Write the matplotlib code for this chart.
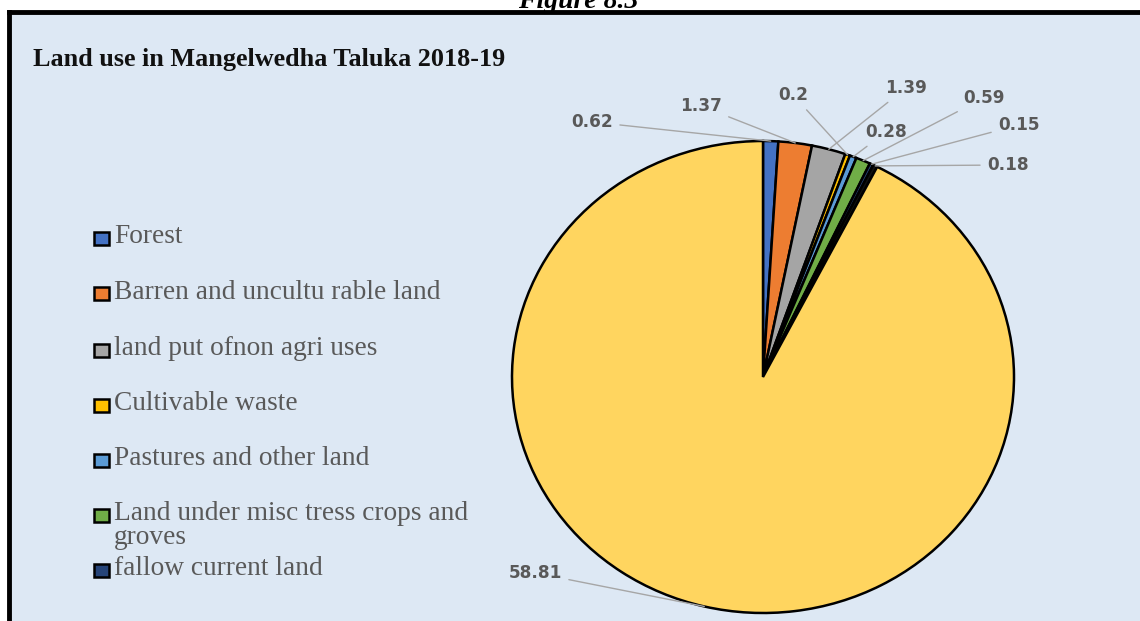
import numpy as np
import matplotlib.pyplot as plt
from matplotlib.patches import Rectangle
from matplotlib.lines import Line2D

# --- DATA ---
categories = [
    "Forest",
    "Barren and uncultu rable land",
    "land put ofnon agri uses",
    "Cultivable waste",
    "Pastures and other land",
    "Land under misc tress crops and\ngroves",
    "fallow current land",
    "Other fallow land",
    "Net sown area",
]
values = [0.62, 1.37, 1.39, 0.2, 0.28, 0.59, 0.15, 0.18, 58.81]
colors = ["#4472C4", "#ED7D31", "#A5A5A5", "#FFC000", "#5B9BD5",
          "#70AD47", "#264478", "#111111", "#FFD55F"]
legend_count = 7  # only the first seven entries are visible in the legend

# label text anchor points in pixels (x from left, y from top) and alignment
label_px = [(613, 122, "right"), (722, 106, "right"), (885, 88, "left"),
            (808, 95, "right"), (865, 132, "left"), (963, 98, "left"),
            (998, 125, "left"), (987, 165, "left"), (562, 573, "right")]

W, H = 1140, 621
CX, CY = 763, 377      # pie centre in pixels
RX, RY = 251, 236      # the pie is slightly stretched horizontally

fig = plt.figure(figsize=(W / 100, H / 100), dpi=100, facecolor="white")

# chart background and the black frame on the top/left
fig.patches.append(Rectangle((9 / W, 0), 1, 1 - 12 / H, transform=fig.transFigure,
                             facecolor="#DDE8F4", edgecolor="none", zorder=-5))
fig.lines.append(Line2D([9 / W, 1], [1 - 11.5 / H, 1 - 11.5 / H], transform=fig.transFigure,
                        color="black", lw=3.5))
fig.lines.append(Line2D([9 / W, 9 / W], [0, 1 - 11.5 / H], transform=fig.transFigure,
                        color="black", lw=3.5))

# caption of the page, cut off at the top
fig.text(578 / W, 1 - 8 / H, "Figure 8.3", ha="center", va="baseline",
         fontsize=20, fontweight="bold", fontstyle="italic", family="Liberation Serif")

ax = fig.add_axes([0, 0, 1, 1], zorder=2)
ax.patch.set_alpha(0)

def px(x, y):
    return (x - CX) / RX, (CY - y) / RY

wedges, _ = ax.pie(values, colors=colors, startangle=90, counterclock=False,
                   radius=1, wedgeprops=dict(edgecolor="black", linewidth=1.8))

ax.set_aspect("auto")
ax.set_xlim(-CX / RX, (W - CX) / RX)
ax.set_ylim(-(H - CY) / RY, CY / RY)
ax.axis("off")

# data labels with leader lines
for w, v, (lx, ly, ha) in zip(wedges, values, label_px):
    ang = np.deg2rad((w.theta1 + w.theta2) / 2)
    ax.annotate(f"{v:g}", xy=(np.cos(ang), np.sin(ang)), xytext=px(lx, ly),
                ha=ha, va="center", fontsize=12.2, fontweight="bold", color="#595959",
                family="DejaVu Sans",
                arrowprops=dict(arrowstyle="-", color="#A6A6A6", lw=1,
                                shrinkA=3, shrinkB=0))

# title
fig.text(33 / W, 1 - 66 / H, "Land use in Mangelwedha Taluka 2018-19",
         ha="left", va="baseline", fontsize=18.8, fontweight="bold",
         family="Liberation Serif", color="#111111")

# legend (drawn by hand to keep the overlapping wrapped entry)
leg_y = [238, 294, 350, 405, 460, 515, 570]
for i in range(legend_count):
    y = leg_y[i]
    fig.patches.append(Rectangle((94 / W, 1 - (y + 6.5) / H), 15 / W, 13 / H,
                                 transform=fig.transFigure, facecolor=colors[i],
                                 edgecolor="black", lw=1.8, zorder=3))
    fig.text(114 / W, 1 - (y - 14) / H, categories[i], ha="left", va="top",
             fontsize=19.7, family="Liberation Serif", color="#595959",
             linespacing=0.95)

fig.savefig("out.png", dpi=100, facecolor=fig.get_facecolor())
